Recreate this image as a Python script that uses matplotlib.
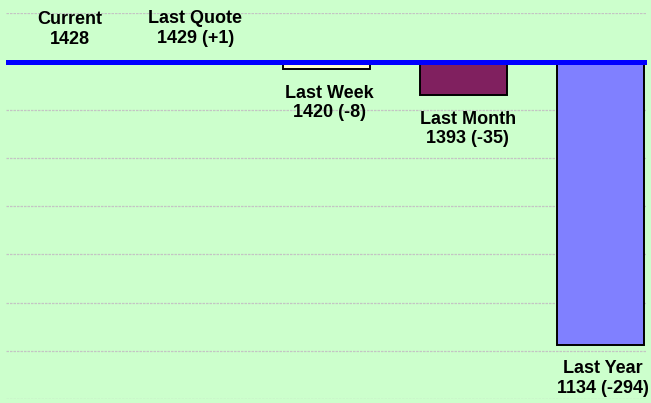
import numpy as np
import matplotlib.pyplot as plt

# quote data
categories = ['Current', 'Last Quote', 'Last Week', 'Last Month', 'Last Year']
values = [1428, 1429, 1420, 1393, 1134]
current = values[0]
bar_colors = ['#CCFFCC', '#FFFFCC', '#FFFFCC', '#80205F', '#8080FF']

plt.rcParams['font.family'] = ['Liberation Sans', 'DejaVu Sans']

fig = plt.figure(figsize=(6.51, 4.03), dpi=100, facecolor='#CCFFCC')
ax = fig.add_axes([6 / 651, 4.0 / 403, 641 / 651, 385.6 / 403])
ax.set_facecolor('#CCFFCC')

x = np.arange(len(categories))
diffs = np.array(values) - current
ax.bar(x[1:], diffs[1:], bottom=current, width=0.636, color=bar_colors[1:],
       edgecolor='black', linewidth=1.4, zorder=2)

# reference line at current value
ax.axhline(current, color='#0000FF', linewidth=3.6, zorder=3)

# labels
nudge = [0.125, 0.04, 0.02, 0.03, 0.02]
for i, (cat, v, d) in enumerate(zip(categories, values, diffs)):
    if i == 0:
        txt = f'{cat}\n{v}'
    else:
        txt = f'{cat}\n{v} ({d:+d})'
    if d >= 0:
        ax.annotate(txt, (i + nudge[i], v), xytext=(0, 10), textcoords='offset points',
                    ha='center', va='bottom', fontsize=13, fontweight='bold',
                    linespacing=1.2, zorder=4)
    else:
        ax.annotate(txt, (i + nudge[i], v), xytext=(0, -11), textcoords='offset points',
                    ha='center', va='top', fontsize=13, fontweight='bold',
                    linespacing=1.2, zorder=4)

ax.set_xlim(-0.344, 4.341)
ax.set_ylim(current - 350, current + 50)
ax.set_yticks(np.arange(current - 350, current + 51, 50))
ax.yaxis.grid(True, color='#C4C4C4', linestyle=(0, (2, 0.8)), linewidth=0.9, zorder=1)
ax.set_axisbelow(True)
ax.tick_params(left=False, bottom=False, labelleft=False, labelbottom=False)
for s in ax.spines.values():
    s.set_visible(False)

fig.savefig('out.png', dpi=100, facecolor='#CCFFCC')
